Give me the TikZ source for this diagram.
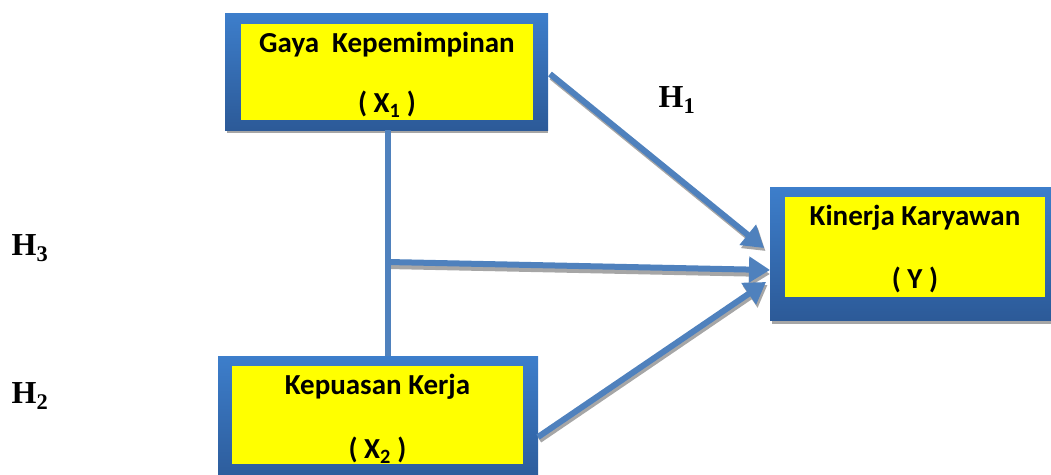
\documentclass[tikz,border=0pt]{standalone}
\usepackage{fontspec}
\setmainfont{Liberation Serif}
\newfontfamily\boxfont{Carlito}
\usetikzlibrary{arrows.meta}
\definecolor{linkblue}{HTML}{4F81BD}
\definecolor{boxtop}{HTML}{3D7ECB}
\definecolor{boxbot}{HTML}{2C5A98}
\definecolor{shadowgray}{HTML}{A6A6A6}
\definecolor{varyellow}{HTML}{FFFF00}
\tikzset{
  outerbox/.style={rectangle, inner sep=0pt, top color=boxtop, bottom color=boxbot, draw=none},
  boxshadow/.style={fill=shadowgray, draw=none},
  innerbox/.style={rectangle, inner sep=0pt, fill=varyellow, draw=none},
  boxtext/.style={font=\boxfont\bfseries\fontsize{29}{31}\selectfont, inner sep=0pt},
  hyp/.style={font=\bfseries\fontsize{32}{36}\selectfont, inner sep=0pt},
  link/.style={draw=linkblue, line width=6pt},
  linkarrow/.style={link, -{Triangle[length=21pt,width=25pt]}},
  linkshadow/.style={draw=shadowgray, line width=6pt, -{Triangle[length=21pt,width=25pt]}},
}
\begin{document}
\begin{tikzpicture}[x=1pt,y=-1pt]
\useasboundingbox (0,0) rectangle (1051,474);

% box shadows
\fill[boxshadow] (227,16) rectangle (548,133);
\fill[boxshadow] (772,190) rectangle (1051,324);

% variable boxes
\node[outerbox, minimum width=323pt, minimum height=117pt] (gayaout) at (386.5,71.5) {};
\node[innerbox, minimum width=292pt, minimum height=96pt] (gaya) at (387,72) {};
\node[boxtext] (gayat) at (387,45) {Gaya\ \ Kepemimpinan};
\node[boxtext] (gayax) at (387,104) {( X\textsubscript{1} )};

\node[outerbox, minimum width=281pt, minimum height=133pt] (kinout) at (910.5,253.5) {};
\node[innerbox, minimum width=260pt, minimum height=100pt] (kin) at (915,247) {};
\node[boxtext] (kint) at (915,218) {Kinerja Karyawan};
\node[boxtext] (kiny) at (915,280) {( Y )};

\node[outerbox, minimum width=320pt, minimum height=130pt] (kepout) at (378,421) {};
\node[innerbox, minimum width=291pt, minimum height=98pt] (kep) at (377.5,415) {};
\node[boxtext] (kept) at (377.5,387) {Kepuasan Kerja};
\node[boxtext] (kepx) at (377.5,450) {( X\textsubscript{2} )};

% connection points
\coordinate (j) at (388,262);
\coordinate (s1) at (550,74);
\coordinate (t1) at (764,248);
\coordinate (t3) at (770,270);
\coordinate (s2) at (538,437);
\coordinate (t2) at (766,282);

% arrow shadows
\draw[linkshadow] ([shift={(1.5,3)}]s1) -- ([shift={(1.5,3)}]t1);
\draw[linkshadow] ([shift={(0,4)}]j) -- ([shift={(0,4)}]t3);
\draw[linkshadow] ([shift={(1.5,3)}]s2) -- ([shift={(1.5,3)}]t2);

% moderating line between the two predictors
\draw[link] (gayaout.south -| j) -- (kepout.north -| j);

% arrows
\draw[linkarrow] (s1) -- (t1);
\draw[linkarrow] (j) -- (t3);
\draw[linkarrow] (s2) -- (t2);

% hypothesis labels
\node[hyp] (h1) at (677,100) {H\textsubscript{1}};
\node[hyp] (h3) at (30,248) {H\textsubscript{3}};
\node[hyp] (h2) at (30,396) {H\textsubscript{2}};
\end{tikzpicture}
\end{document}
